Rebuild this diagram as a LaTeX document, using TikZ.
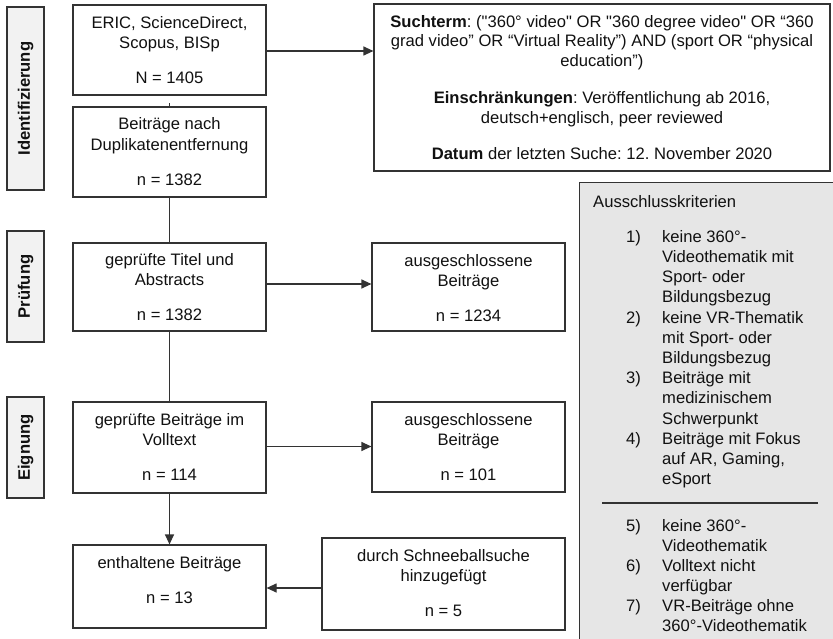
\documentclass[tikz,border=0pt]{standalone}
\usepackage{fontspec}
\newfontfamily\arial{Liberation Sans}
\usetikzlibrary{arrows.meta,positioning}
\definecolor{linec}{HTML}{333333}
\definecolor{sidefill}{HTML}{F2F2F2}
\definecolor{xfill}{HTML}{E6E6E6}
\definecolor{textc}{HTML}{111111}
\frenchspacing
\begin{document}
\begin{tikzpicture}[x=1pt,y=-1pt,
  box/.style={draw=linec, line width=1.2pt, inner sep=0pt, fill=white},
  side/.style={draw=linec, line width=1.2pt, fill=sidefill, inner sep=0pt, rotate=90,
    text=textc, font=\arial\bfseries\fontsize{16.6}{20}\selectfont},
  txt/.style={inner sep=0pt, align=center, text=textc, font=\arial\fontsize{16.6}{20.5}\selectfont},
  stxt/.style={inner sep=0pt, align=center, text=textc, font=\arial\fontsize{16.6}{19.5}\selectfont},
  ltxt/.style={inner sep=0pt, align=left, text=textc, font=\arial\fontsize{16.6}{20.2}\selectfont},
  con/.style={draw=linec, line width=1.2pt},
  arr/.style={con, -{Triangle[length=10pt,width=9pt]}},
]
\clip (0,0) rectangle (833,639);

% exclusion criteria panel
\node[box, fill=xfill, anchor=north west, minimum width=275, minimum height=480] (X) at (579,182) {};
\node[txt, anchor=north west] (Xt) at (593,192.6) {\strut Ausschlusskriterien};
\node[ltxt, anchor=north west] (X1) at (626,227.9) {\strut\makebox[36pt][l]{1)}keine 360°-\\
\hspace*{36pt}Videothematik mit\\
\hspace*{36pt}Sport- oder\\
\hspace*{36pt}Bildungsbezug\\
\makebox[36pt][l]{2)}keine VR-Thematik\\
\hspace*{36pt}mit Sport- oder\\
\hspace*{36pt}Bildungsbezug\\
\makebox[36pt][l]{3)}Beiträge mit\\
\hspace*{36pt}medizinischem\\
\hspace*{36pt}Schwerpunkt\\
\makebox[36pt][l]{4)}Beiträge mit Fokus\\
\hspace*{36pt}auf AR, Gaming,\\
\hspace*{36pt}eSport};
\coordinate (r1) at (602,503);
\coordinate (r2) at (818,503);
\draw[con] (r1) -- (r2);
\node[ltxt, font=\arial\fontsize{16.6}{20}\selectfont, anchor=north west] (X2) at (626,517) {\strut\makebox[36pt][l]{5)}keine 360°-\\
\hspace*{36pt}Videothematik\\
\makebox[36pt][l]{6)}Volltext nicht\\
\hspace*{36pt}verfügbar\\
\makebox[36pt][l]{7)}VR-Beiträge ohne\\
\hspace*{36pt}360°-Videothematik};

% phase labels
\node[side, minimum width=183, minimum height=37] (sid) at (25.5,98.5) {Identifizierung};
\node[side, minimum width=111, minimum height=37] (spr) at (25.5,286.5) {Prüfung};
\node[side, minimum width=101, minimum height=37] (sei) at (25.5,447.5) {Eignung};

% main boxes
\node[box, minimum width=193, minimum height=90] (A) at (169.5,50) {};
\node[box, minimum width=193, minimum height=90] (B) at (169.5,152) {};
\node[box, minimum width=193, minimum height=88] (C) at (169.5,287) {};
\node[box, minimum width=193, minimum height=91] (E) at (169.5,447.5) {};
\node[box, minimum width=193, minimum height=83] (G) at (169.5,586.5) {};
\node[box, minimum width=193, minimum height=88] (D) at (468.5,287) {};
\node[box, minimum width=193, minimum height=90] (F) at (468.5,447) {};
\node[box, minimum width=243, minimum height=92] (H) at (443.5,584) {};
\node[box, minimum width=456, minimum height=167] (S) at (602,87.5) {};

% texts
\node[txt, below=9.2pt of A.north] (At) {\strut ERIC, ScienceDirect,\\ Scopus, BISp\\[14.5pt] N = 1405};
\node[txt, below=8.7pt of B.north] (Bt) {\strut Beiträge nach\\ Duplikatenentfernung\\[14.5pt] n = 1382};
\node[txt, below=8.2pt of C.north] (Ct) {\strut geprüfte Titel und\\ Abstracts\\[14.5pt] n = 1382};
\node[txt, below=9.2pt of D.north] (Dt) {\strut ausgeschlossene\\ Beiträge\\[14.5pt] n = 1234};
\node[txt, below=9.2pt of E.north] (Et) {\strut geprüfte Beiträge im\\ Volltext\\[14.5pt] n = 114};
\node[txt, below=9.2pt of F.north] (Ft) {\strut ausgeschlossene\\ Beiträge\\[14.5pt] n = 101};
\node[txt, below=9.2pt of G.north] (Gt) {\strut enthaltene Beiträge\\[14.5pt] n = 13};
\node[txt, below=9.2pt of H.north] (Ht) {\strut durch Schneeballsuche\\ hinzugefügt\\[14.5pt] n = 5};
\node[stxt, below=9.8pt of S.north] (St) {\strut\textbf{Suchterm}: ("360° video" OR "360 degree video" OR “360\\
grad video” OR “Virtual Reality”) AND (sport OR “physical\\
education”)\\[18pt]
\textbf{Einschränkungen}: Veröffentlichung ab 2016,\\
deutsch+englisch, peer reviewed\\[17pt]
\textbf{Datum} der letzten Suche: 12. November 2020};

% connectors
\coordinate (tk) at ([yshift=3pt]B.north);
\draw[con] (B.north) -- (tk);
\draw[arr] ([yshift=-1pt]A.east) -- ([yshift=-1pt]A.east -| S.west);
\draw[con] (B.south) -- (C.north);
\draw[arr] ([yshift=3pt]C.east) -- ([yshift=3pt]C.east -| D.west);
\draw[con] (C.south) -- (E.north);
\draw[arr] ([yshift=1pt]E.east) -- ([yshift=1pt]E.east -| F.west);
\draw[arr] (E.south) -- (G.north);
\draw[arr] ([yshift=-1.5pt]G.east -| H.west) -- ([yshift=-1.5pt]G.east);
\end{tikzpicture}
\end{document}
